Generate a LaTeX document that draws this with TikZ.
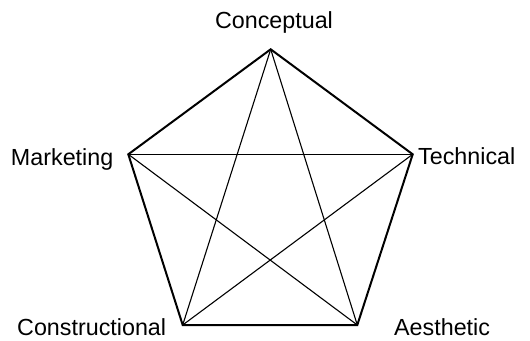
\documentclass[tikz,border=0pt]{standalone}
\usepackage{fontspec}
\setmainfont{Liberation Sans}
\begin{document}
\begin{tikzpicture}[x=1pt,y=-1pt,
  lbl/.style={inner sep=0pt,font=\fontsize{23.3}{28}\selectfont},
  edge/.style={line width=2pt,line join=miter},
  diag/.style={line width=1.1pt}]
\useasboundingbox (0,0) rectangle (530,340);
\coordinate (C) at (270.7,49.3);
\coordinate (T) at (412.7,154.3);
\coordinate (A) at (357.3,325);
\coordinate (K) at (182.7,325);
\coordinate (M) at (128.3,154.3);
\node[lbl,anchor=base] (lc) at (274,28) {Conceptual};
\node[lbl,anchor=base east] (lm) at (113.5,165.7) {Marketing};
\node[lbl,anchor=base west] (lt) at (418,164) {Technical};
\node[lbl,anchor=base west] (lk) at (17,335.5) {Constructional};
\node[lbl,anchor=base west] (la) at (394,335.5) {Aesthetic};
\draw[diag] (C) -- (K);
\draw[diag] (C) -- (A);
\draw[diag] (M) -- (T);
\draw[diag] (M) -- (A);
\draw[diag] (T) -- (K);
\draw[edge] (C) -- (T) -- (A) -- (K) -- (M) -- cycle;
\end{tikzpicture}
\end{document}
